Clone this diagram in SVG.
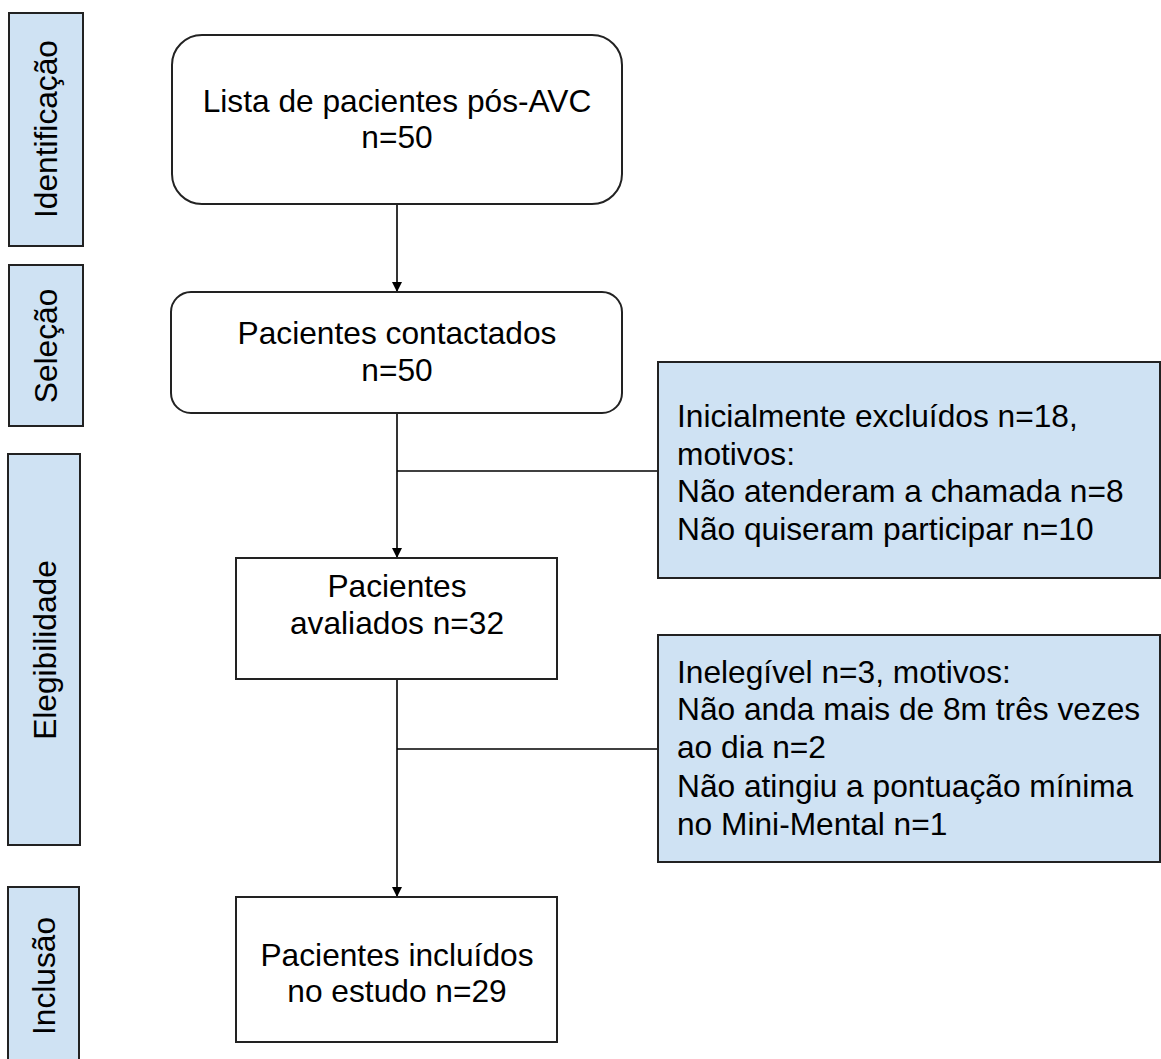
<svg xmlns="http://www.w3.org/2000/svg" width="1161" height="1059" viewBox="0 0 1161 1059">
<defs>
<style>
.t{font-family:"Liberation Sans",Arial,sans-serif;font-size:31.7px;fill:#000}
.c{text-anchor:middle}
.side{fill:#cfe2f3;stroke:#222;stroke-width:2}
.node{fill:#fff;stroke:#222;stroke-width:2}
.excl{fill:#cfe2f3;stroke:#222;stroke-width:2}
.conn{fill:none;stroke:#000;stroke-width:1.6}
</style>
<marker id="arr" viewBox="0 0 10 10" refX="10" refY="5" markerWidth="10" markerHeight="10" markerUnits="userSpaceOnUse" orient="auto">
<path d="M0,0 L10,5 L0,10 z" fill="#000"/>
</marker>
</defs>
<rect width="1161" height="1059" fill="#fff"/>

<g id="side-identificacao">
<rect class="side" x="9" y="13" width="74" height="233"/>
<text class="t c" transform="translate(57,129) rotate(-90)">Identificação</text>
</g>
<g id="side-selecao">
<rect class="side" x="9" y="265" width="74" height="161"/>
<text class="t c" transform="translate(57,346) rotate(-90)">Seleção</text>
</g>
<g id="side-elegibilidade">
<rect class="side" x="8" y="454" width="72" height="391"/>
<text class="t c" transform="translate(56,650) rotate(-90)">Elegibilidade</text>
</g>
<g id="side-inclusao">
<rect class="side" x="8" y="887" width="71" height="180"/>
<text class="t c" transform="translate(55,976) rotate(-90)">Inclusão</text>
</g>

<g id="connectors">
<line class="conn" x1="397" y1="204" x2="397" y2="292" marker-end="url(#arr)"/>
<line class="conn" x1="397" y1="413" x2="397" y2="558" marker-end="url(#arr)"/>
<line class="conn" x1="397" y1="471" x2="658" y2="471"/>
<line class="conn" x1="397" y1="679" x2="397" y2="897" marker-end="url(#arr)"/>
<line class="conn" x1="397" y1="749" x2="658" y2="749"/>
</g>

<g id="node-lista">
<rect class="node" x="172" y="35" width="450" height="169" rx="30" ry="30"/>
<text class="t c" x="397" y="112">Lista de pacientes pós-AVC</text>
<text class="t c" x="397" y="148">n=50</text>
</g>
<g id="node-contactados">
<rect class="node" x="171" y="292" width="451" height="121" rx="20" ry="20"/>
<text class="t c" x="397" y="344">Pacientes contactados</text>
<text class="t c" x="397" y="381">n=50</text>
</g>
<g id="node-avaliados">
<rect class="node" x="236" y="558" width="321" height="121"/>
<text class="t c" x="397" y="597">Pacientes</text>
<text class="t c" x="397" y="634">avaliados n=32</text>
</g>
<g id="node-incluidos">
<rect class="node" x="236" y="897" width="321" height="145"/>
<text class="t c" x="397" y="966">Pacientes incluídos</text>
<text class="t c" x="397" y="1002">no estudo n=29</text>
</g>

<g id="excl-inicial">
<rect class="excl" x="658" y="362" width="502" height="216"/>
<text class="t" x="677" y="427">Inicialmente excluídos n=18,</text>
<text class="t" x="677" y="465">motivos:</text>
<text class="t" x="677" y="502">Não atenderam a chamada n=8</text>
<text class="t" x="677" y="540">Não quiseram participar n=10</text>
</g>
<g id="excl-inelegivel">
<rect class="excl" x="658" y="635" width="502" height="227"/>
<text class="t" x="677" y="683">Inelegível n=3, motivos:</text>
<text class="t" x="677" y="720">Não anda mais de 8m três vezes</text>
<text class="t" x="677" y="758">ao dia n=2</text>
<text class="t" x="677" y="797">Não atingiu a pontuação mínima</text>
<text class="t" x="677" y="835">no Mini-Mental n=1</text>
</g>
</svg>
